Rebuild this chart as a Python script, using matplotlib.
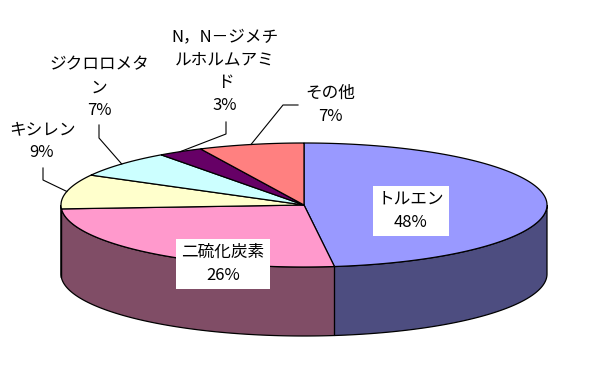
import numpy as np
import matplotlib
matplotlib.use('Agg')
import matplotlib.pyplot as plt

plt.rcParams['font.family'] = ['Noto Sans CJK JP', 'DejaVu Sans']

#__________________DATA

names  = ['トルエン', '二硫化炭素', 'キシレン', 'ジクロロメタ\nン',
          'N，N－ジメチ\nルホルムアミ\nド', 'その他']
values = [48, 26, 9, 7, 3, 7]
colors = ['#9999FF', '#FF99CC', '#FFFFCC', '#CCFFFF', '#660066', '#FF8080']

#__________________LAYOUT (pixel coords)

cx, cy = 304, 205      # centre of the top ellipse
ra, rb = 243, 62       # half axes
depth  = 69

# label centre, elbow of the leader line (None = inside label)
lab_pos = [(411, 211), (223, 264), (42, 141), (99, 88), (225, 71), (330, 105)]
elbows  = [None, None, [(43, 168), (43, 180)], [(99, 125), (99, 138)],
           [(226, 122), (226, 134)], [(298, 105), (283, 105)]]


def xy(t):
    t = np.radians(t)
    return cx + ra*np.cos(t), cy - rb*np.sin(t)


def darker(c):
    r, g, b = matplotlib.colors.to_rgb(c)
    return (r*.5, g*.5, b*.5)


fig = plt.figure(figsize=(6.11, 3.71), dpi=100)
ax = fig.add_axes([0, 0, 1, 1])
ax.set_xlim(0, 611)
ax.set_ylim(371, 0)
ax.axis('off')

total = float(sum(values))
cum = np.concatenate([[0], np.cumsum(values)]) / total
t_start = 90 - 360*cum[:-1]
t_end   = 90 - 360*cum[1:]

# side walls (front half only)
for t0, t1, c in zip(t_start, t_end, colors):
    for off in (-360, 0, 360):
        lo = max(t1, -180 + off)
        hi = min(t0, 0 + off)
        if lo >= hi:
            continue
        tt = np.linspace(hi, lo, 100)
        x, y = xy(tt)
        px = np.concatenate([x, x[::-1]])
        py = np.concatenate([y, (y + depth)[::-1]])
        ax.fill(px, py, facecolor=darker(c), edgecolor='k', lw=0.9, zorder=1)

# top faces
for t0, t1, c in zip(t_start, t_end, colors):
    tt = np.linspace(t0, t1, 200)
    x, y = xy(tt)
    ax.fill(np.r_[cx, x], np.r_[cy, y], facecolor=c, edgecolor='k', lw=0.9,
            zorder=2)

# labels
for i, (nm, v) in enumerate(zip(names, values)):
    txt = '%s\n%d%%' % (nm, v)
    tx, ty = lab_pos[i]
    if elbows[i] is None:
        ax.text(tx, ty, txt, ha='center', va='center', ma='center',
                fontsize=12, linespacing=1.45, zorder=4,
                bbox=dict(boxstyle='square,pad=0.3', fc='w', ec='none'))
    else:
        ax.text(tx, ty, txt, ha='center', va='center', ma='center',
                fontsize=12, linespacing=1.45, zorder=4)
        mid = (t_start[i] + t_end[i]) / 2
        ex, ey = xy(mid)
        pts = elbows[i] + [(ex, ey)]
        ax.plot([p[0] for p in pts], [p[1] for p in pts], color='k',
                lw=0.8, zorder=3)

plt.savefig('out.png', dpi=100)
plt.close()
